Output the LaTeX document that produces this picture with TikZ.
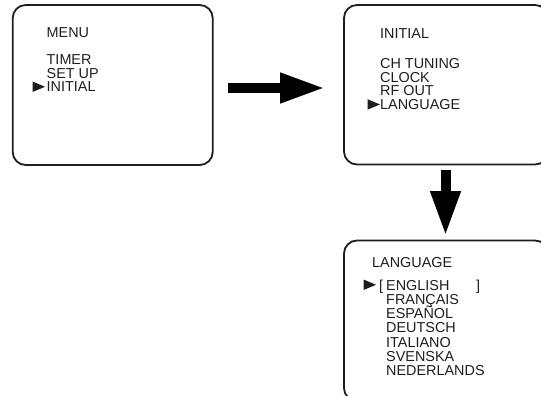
\documentclass[tikz,border=0pt]{standalone}
\usepackage{fontspec}
\setmainfont{Liberation Sans}
\usetikzlibrary{arrows.meta}
\definecolor{ink}{HTML}{1E1E1E}
\tikzset{
  screen/.style={draw=ink, line width=1.8pt, rounded corners=13pt},
  label/.style={anchor=base west, inner sep=0pt, text=ink,
    font=\fontsize{14.4}{14.4}\selectfont},
  blockarrow/.style={draw=black, line width=10pt,
    -{Triangle[length=45pt, width=28pt]}},
}
% pointer triangle: #1 = tip x, #2 = text baseline
\newcommand{\pointer}[2]{\fill[ink] (#1-12.5,#2-10.5) -- (#1,#2-5.2) -- (#1-12.5,#2) -- cycle;}
\begin{document}
\begin{tikzpicture}[x=1pt, y=-1pt]
  \useasboundingbox (0,0) rectangle (541,396);
  \clip (0,0) rectangle (541,396);

  % screens
  \draw[screen] (12.7,5) rectangle (212.7,165);
  \draw[screen] (344,5) rectangle (548,164.5);
  \draw[screen] (344,240.5) rectangle (548,401);

  % main menu
  \node[label] (menu)    at (46.5,37.3)  {MENU};
  \node[label] (timer)   at (46.5,64.2)  {TIMER};
  \node[label] (setup)   at (46.5,78.1)  {SET UP};
  \node[label] (initial) at (46.5,92)    {INITIAL};
  \pointer{45}{92}

  % initial setup menu
  \node[label] (ihead)   at (380,38.3)  {INITIAL};
  \node[label] (tuning)  at (380,68.3)  {CH TUNING};
  \node[label] (clock)   at (380,82.1)  {CLOCK};
  \node[label] (rfout)   at (380,95.9)  {RF OUT};
  \node[label] (lang)    at (380,109.7) {LANGUAGE};
  \pointer{380}{109.7}

  % language menu
  \node[label] (lhead) at (372,267.3) {LANGUAGE};
  \node[label] (lbr)   at (379,290)   {[};
  \node[label] (en)    at (386,290)   {ENGLISH};
  \node[label] (rbr)   at (476,290)   {]};
  \node[label] (fr)    at (386,304.3) {FRANÇAIS};
  \node[label] (es)    at (386,318.6) {ESPAÑOL};
  \node[label] (de)    at (386,332.9) {DEUTSCH};
  \node[label] (it)    at (386,347.2) {ITALIANO};
  \node[label] (sv)    at (386,361.5) {SVENSKA};
  \node[label] (nl)    at (386,375.8) {NEDERLANDS};
  \pointer{376}{290}

  % navigation arrows
  \coordinate (rstart) at (228,88);
  \coordinate (rend)   at (325,88);
  \coordinate (dstart) at (445.5,170);
  \coordinate (dend)   at (445.5,236);
  \draw[blockarrow] (rstart) -- (rend);
  \draw[blockarrow] (dstart) -- (dend);
\end{tikzpicture}
\end{document}
